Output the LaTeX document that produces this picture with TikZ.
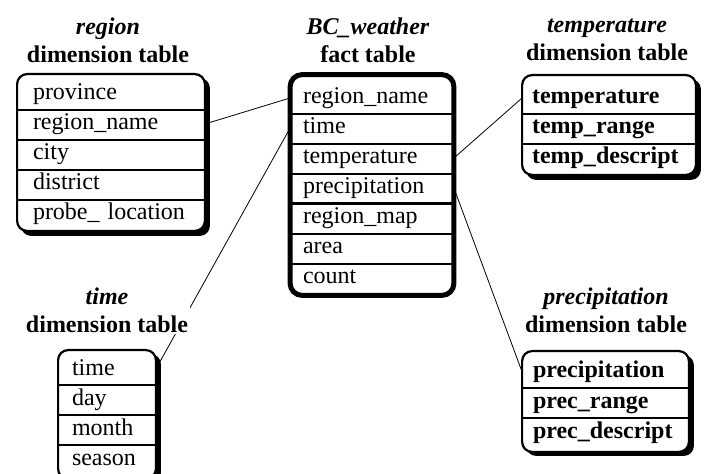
\documentclass[tikz,border=0pt]{standalone}
\usepackage{fontspec}
\setmainfont{Liberation Serif}
\usetikzlibrary{backgrounds}

\begin{document}
\begin{tikzpicture}[x=0.5pt,y=-0.5pt,line width=0.9pt,
  font=\fontsize{12}{14}\selectfont,
  fld/.style={minimum height=15pt,inner ysep=0pt,text height=8.5pt,text depth=2.5pt,align=left},
  rgfld/.style={fld,text width=78pt,inner xsep=7.5pt},
  bcfld/.style={fld,text width=69pt,inner xsep=6pt},
  tpfld/.style={fld,text width=77pt,inner xsep=4.5pt,font=\fontsize{12}{14}\selectfont\bfseries},
  tmfld/.style={fld,text width=35pt,inner xsep=6.5pt},
  pcfld/.style={fld,text width=72.5pt,inner xsep=5pt,font=\fontsize{12}{14}\selectfont\bfseries},
  ttl/.style={align=center,fill=white,inner sep=1pt,font=\fontsize{12}{14}\selectfont\bfseries},
  shd/.style={fill=black,rounded corners=5pt},
  frm/.style={draw,fill=white,line width=1.1pt,rounded corners=5pt}]
\clip (0,0) rectangle (704,474);
% titles
\node[ttl] (rgt) at (108,40) {\textit{region}\\dimension table};
\node[ttl] (bct) at (368,40) {\textit{BC\_weather}\\fact table};
\node[ttl] (tpt) at (607,40) {\textit{temperature}\\dimension table};
\node[ttl] (tmt) at (107,310) {\textit{time}\\dimension table};
\node[ttl] (pct) at (606,310) {\textit{precipitation}\\dimension table};
% region
\node[rgfld] (rg1) at (111,94) {province};
\node[rgfld] (rg2) at (111,124) {region\_name};
\node[rgfld] (rg3) at (111,154) {city};
\node[rgfld] (rg4) at (111,184) {district};
\node[rgfld] (rg5) at (111,214) {probe\_ location};
% BC_weather
\node[bcfld] (bc1) at (372,98) {region\_name};
\node[bcfld] (bc2) at (372,128) {time};
\node[bcfld] (bc3) at (372,158) {temperature};
\node[bcfld] (bc4) at (372,188) {precipitation};
\node[bcfld] (bc5) at (372,218) {region\_map};
\node[bcfld] (bc6) at (372,248) {area};
\node[bcfld] (bc7) at (372,278) {count};
% temperature
\node[tpfld] (tp1) at (609,98) {temperature};
\node[tpfld] (tp2) at (609,128) {temp\_range};
\node[tpfld] (tp3) at (609,158) {temp\_descript};
% time
\node[tmfld] (tm1) at (107,369) {time};
\node[tmfld] (tm2) at (107,399) {day};
\node[tmfld] (tm3) at (107,429) {month};
\node[tmfld] (tm4) at (107,459) {season};
% precipitation
\node[pcfld] (pc1) at (605.5,372) {precipitation};
\node[pcfld] (pc2) at (605.5,402) {prec\_range};
\node[pcfld] (pc3) at (605.5,432) {prec\_descript};
%%
\begin{scope}[on background layer]
\draw (rg2.east) -- (bc1.west)  (tm1.east) -- (bc2.west)
 (bc3.east) -- (tp1.west)  (bc4.east) -- (pc1.west);
\fill[shd] ([shift={(4,0)}]rg1.north west) rectangle ([shift={(5,6)}]rg5.south east);
\fill[shd] ([shift={(4,-3)}]tp1.north west) rectangle ([shift={(5,6)}]tp3.south east);
\fill[shd] ([shift={(4,1)}]tm1.north west) rectangle ([shift={(5,8)}]tm4.south east);
\fill[shd] ([shift={(4,-1)}]pc1.north west) rectangle ([shift={(5,8)}]pc3.south east);
\draw[frm] ([shift={(0,-4)}]rg1.north west) rectangle ([shift={(0,1)}]rg5.south east);
\draw[frm] ([shift={(0,-7)}]tp1.north west) rectangle ([shift={(0,1)}]tp3.south east);
\draw[frm] ([shift={(0,-3)}]tm1.north west) rectangle ([shift={(0,4)}]tm4.south east);
\draw[frm] ([shift={(0,-5)}]pc1.north west) rectangle ([shift={(0,4)}]pc3.south east);
\draw[frm,line width=2.5pt,rounded corners=6pt] ([shift={(0,-7.5)}]bc1.north west) rectangle ([shift={(0,1.5)}]bc7.south east);
\end{scope}
%%
\draw (rg1.south west) -- (rg1.south east)  (rg2.south west) -- (rg2.south east)
 (rg3.south west) -- (rg3.south east)  (rg4.south west) -- (rg4.south east)
 (bc1.south west) -- (bc1.south east)  (bc2.south west) -- (bc2.south east)
 (bc3.south west) -- (bc3.south east)  (bc5.south west) -- (bc5.south east)
 (bc6.south west) -- (bc6.south east)
 (tp1.south west) -- (tp1.south east)  (tp2.south west) -- (tp2.south east)
 (tm1.south west) -- (tm1.south east)  (tm2.south west) -- (tm2.south east)
 (tm3.south west) -- (tm3.south east)
 (pc1.south west) -- (pc1.south east)  (pc2.south west) -- (pc2.south east);
\draw[line width=1.6pt] (bc4.south west) -- (bc4.south east);
\end{tikzpicture}
\end{document}
